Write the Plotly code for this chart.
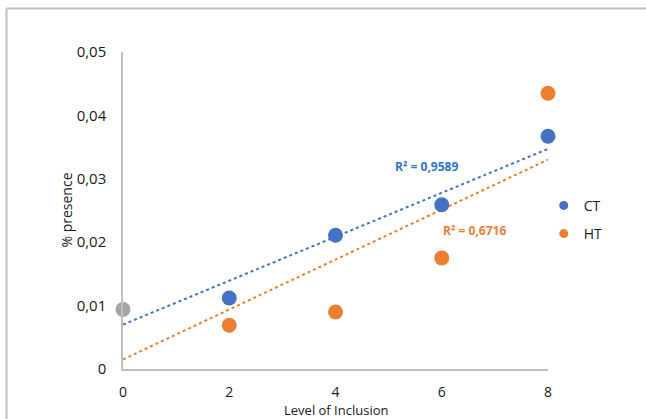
import numpy as np
import plotly.graph_objects as go

inclusion = [0, 2, 4, 6, 8]
ct = [0.0094, 0.0112, 0.0211, 0.0259, 0.0367]
ht = [0.0094, 0.0069, 0.0090, 0.0175, 0.0435]
series_names = ["CT", "HT"]
r2_labels = ["R² = 0,9589", "R² = 0,6716"]
y_ticks = [0, 0.01, 0.02, 0.03, 0.04, 0.05]
y_ticktext = ["0", "0,01", "0,02", "0,03", "0,04", "0,05"]
x_ticks = [0, 2, 4, 6, 8]
x_title = "Level of Inclusion"
y_title = "% presence"

BLUE = "#4472C4"
ORANGE = "#ED7D31"
GRAY = "#A5A5A5"
FONT = "Open Sans"

fig = go.Figure()

# trendlines (least squares, incl. control point)
xs = np.array(inclusion, dtype=float)
xline = np.array([xs.min(), xs.max()])
for vals, col in [(ct, BLUE), (ht, ORANGE)]:
    m, c = np.polyfit(xs, np.array(vals), 1)
    fig.add_trace(go.Scatter(x=xline, y=m * xline + c, mode="lines",
                             line=dict(color=col, width=2, dash="dot"),
                             showlegend=False, hoverinfo="skip"))

# data points
for vals, col, name in [(ct, BLUE, series_names[0]), (ht, ORANGE, series_names[1])]:
    fig.add_trace(go.Scatter(x=inclusion[1:], y=vals[1:], mode="markers",
                             marker=dict(color=col, size=15), name=name,
                             showlegend=False, cliponaxis=False))
# control point
fig.add_trace(go.Scatter(x=[inclusion[0]], y=[ct[0]], mode="markers",
                         marker=dict(color=GRAY, size=15), showlegend=False,
                         cliponaxis=False))
# legend entries
for col, name, g in [(BLUE, series_names[0], "a"), (ORANGE, series_names[1], "b")]:
    fig.add_trace(go.Scatter(x=[None], y=[None], mode="markers",
                             marker=dict(color=col, size=9), name=name,
                             legendgroup=g, showlegend=True))

fig.add_annotation(x=5.72, y=0.0320, text="<b>" + r2_labels[0] + "</b>", showarrow=False,
                   font=dict(family=FONT, size=12, color="#2E75C8"))
fig.add_annotation(x=6.61, y=0.0219, text="<b>" + r2_labels[1] + "</b>", showarrow=False,
                   font=dict(family=FONT, size=12, color=ORANGE))

# axis titles
fig.add_annotation(xref="paper", yref="paper", x=0.5, y=-0.1293, text=x_title,
                   showarrow=False, font=dict(family=FONT, size=13), yanchor="middle",
                   borderpad=0)
fig.add_annotation(xref="paper", yref="paper", x=-0.134, y=0.5, text=y_title, textangle=-90,
                   showarrow=False, font=dict(family=FONT, size=14), xanchor="center")

# outer chart-area border (cropped)
fig.add_shape(type="line", xref="paper", yref="paper", x0=-0.2741, x1=1.25, y0=1.1372, y1=1.1372,
              line=dict(color="#BFBFBF", width=2))
fig.add_shape(type="line", xref="paper", yref="paper", x0=-0.2741, x1=-0.2741, y0=-0.2, y1=1.1372,
              line=dict(color="#BFBFBF", width=2))

fig.update_layout(
    width=646, height=419,
    margin=dict(l=123, r=98, t=52, b=50),
    paper_bgcolor="white", plot_bgcolor="white",
    font=dict(family=FONT, size=15, color="#1a1a1a"),
    legend=dict(x=0.99, y=0.5653, xanchor="left", yanchor="top",
                font=dict(size=14), tracegroupgap=7, itemwidth=30,
                bgcolor="rgba(0,0,0,0)"),
    xaxis=dict(range=[0, 8], tickvals=x_ticks, showgrid=False, zeroline=False,
               showline=True, linecolor="#BFBFBF", linewidth=1.5, ticks="",
               ticklabelstandoff=9, tickfont=dict(size=14), automargin=False),
    yaxis=dict(range=[0, 0.05], tickvals=y_ticks, ticktext=y_ticktext, showgrid=False,
               zeroline=False, showline=True, linecolor="#BFBFBF", linewidth=1.5, ticks="",
               ticklabelstandoff=12, tickfont=dict(size=15), automargin=False),
)

fig.write_html("out.html", config={"displayModeBar": False},
               post_script="document.body.style.margin='0';")
